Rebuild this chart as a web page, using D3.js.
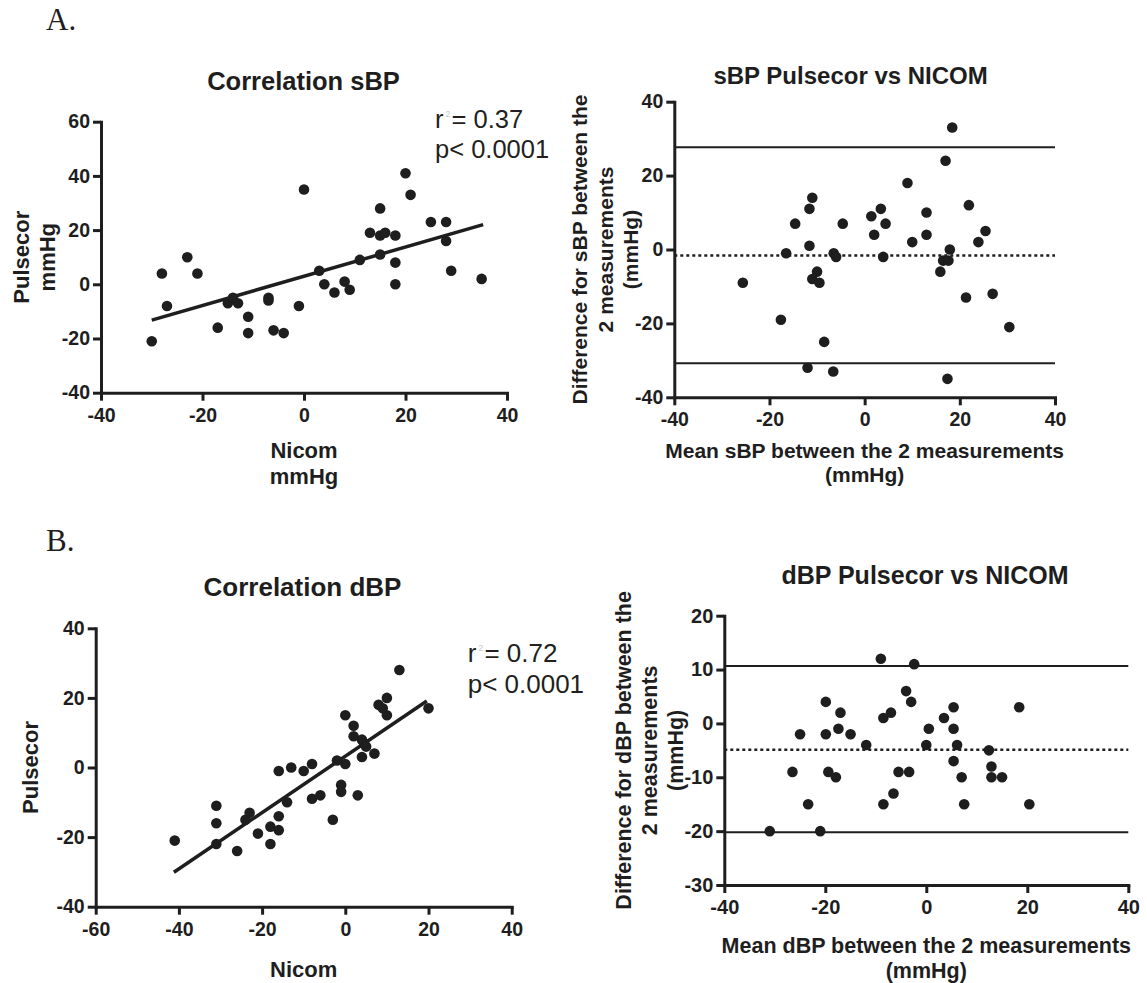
<!DOCTYPE html>
<html><head><meta charset="utf-8">
<script src="https://cdn.jsdelivr.net/npm/d3@7"></script>
<style>body{margin:0;background:#fff} svg{display:block}</style>
</head><body>
<svg id="chart" width="1147" height="983"></svg>
<script>
// ---------- DATA ----------
// A. systolic BP correlation (Nicom vs Pulsecor, mmHg)
const sbpCorrNicom    = [-30,-28,-27,-23,-21,-17,-15,-14,-13,-11,-11,-7,-7,-6,-4,-1,0,3,4,6,8,9,11,13,15,15,15,16,18,18,18,20,21,25,28,28,29,35];
const sbpCorrPulsecor = [-21,4,-8,10,4,-16,-7,-5,-7,-12,-18,-5,-6,-17,-18,-8,35,5,0,-3,1,-2,9,19,28,18,11,19,18,8,0,41,33,23,23,16,5,2];
const sbpFitNicom     = [-30, 35.3];
const sbpFitPulsecor  = [-13.2, 22];
const sbpCorrXTicks   = [-40,-20,0,20,40];
const sbpCorrYTicks   = [-40,-20,0,20,40,60];
const sbpStats        = ["0.37", "p< 0.0001"];

// A. systolic BP Bland-Altman
const sbpBAMean = [-25.6,-17.6,-16.5,-14.6,-12,-11.6,-11.6,-11,-11,-10,-9.5,-8.5,-6.6,-6.5,-6,-4.6,1.4,2,3.4,3.9,4.4,9,10,13,13,15.9,16.5,17,17.4,17.6,17.9,18.4,21.3,21.9,23.9,25.4,26.9,30.4];
const sbpBADiff = [-9,-19,-1,7,-32,11,1,14,-8,-6,-9,-25,-33,-1,-2,7,9,4,11,-2,7,18,2,10,4,-6,-3,24,-35,-3,0,33,-13,12,2,5,-12,-21];
const sbpBABias   = -1.6;
const sbpBALimits = [27.7, -30.8];
const sbpBAXTicks = [-40,-20,0,20,40];
const sbpBAYTicks = [-40,-20,0,20,40];

// B. diastolic BP correlation
const dbpCorrNicom    = [-41,-31,-31,-31,-26,-24,-23,-21,-18,-18,-16,-16,-16,-14,-13,-10,-8,-8,-6,-3,-2,-1,-1,0,0,2,2,3,4,4,4.5,5,7,8,9,10,10,13,20];
const dbpCorrPulsecor = [-21,-11,-16,-22,-24,-15,-13,-19,-17,-22,-1,-14,-18,-10,0,-1,1,-9,-8,-15,2,-5,-7,15,1,12,9,-8,3,8,7,6,4,18,17,20,15,28,17];
const dbpFitNicom     = [-41.2, 19.6];
const dbpFitPulsecor  = [-30.1, 19.1];
const dbpCorrXTicks   = [-60,-40,-20,0,20,40];
const dbpCorrYTicks   = [-40,-20,0,20,40];
const dbpStats        = ["0.72", "p< 0.0001"];

// B. diastolic BP Bland-Altman
const dbpBAMean = [-31,-26.5,-25,-23.4,-21,-19.9,-19.9,-19.4,-17.9,-17.4,-17,-15,-11.9,-9,-8.5,-8.5,-7,-6.5,-5.5,-4,-3.4,-3,-2.4,0,0.5,3.5,5.4,5.4,5.4,6.1,7,7.5,12.4,12.9,12.9,15,18.4,20.4];
const dbpBADiff = [-20,-9,-2,-15,-20,4,-2,-9,-10,-1,2,-2,-4,12,1,-15,2,-13,-9,6,-9,4,11,-4,-1,1,3,-1,-7,-4,-10,-15,-5,-8,-10,-10,3,-15];
const dbpBABias   = -4.9;
const dbpBALimits = [10.66, -20.2];
const dbpBAXTicks = [-40,-20,0,20,40];
const dbpBAYTicks = [-30,-20,-10,0,10,20];

// ---------- DRAWING ----------
const INK = "#1e1e1e";
const SANS = "'Liberation Sans', Arial, Helvetica, sans-serif";
const svg = d3.select("#chart");

function panel(cfg) {
  const g = svg.append("g");
  const x = d3.scaleLinear().domain(d3.extent(cfg.xTicks)).range([cfg.x0, cfg.x1]);
  const y = d3.scaleLinear().domain(d3.extent(cfg.yTicks)).range([cfg.y0, cfg.y1]);

  const fmt = d => String(d);
  const xa = g.append("g").attr("transform", `translate(0,${cfg.y0})`)
    .call(d3.axisBottom(x).tickValues(cfg.xTicks).tickSize(8).tickSizeOuter(0).tickPadding(7).tickFormat(fmt));
  const ya = g.append("g").attr("transform", `translate(${cfg.x0},0)`)
    .call(d3.axisLeft(y).tickValues(cfg.yTicks).tickSize(8).tickSizeOuter(0).tickPadding(3).tickFormat(fmt));
  [xa, ya].forEach(a => {
    a.attr("font-family", SANS).attr("font-size", cfg.tickFs || 19.5).attr("font-weight", "bold");
    a.select(".domain").attr("stroke", INK).attr("stroke-width", 3).attr("stroke-linecap", "square");
    a.selectAll(".tick line").attr("stroke", INK).attr("stroke-width", 3);
    a.selectAll(".tick text").attr("fill", INK);
  });

  // reference lines (Bland-Altman)
  if (cfg.limits) {
    g.selectAll("line.lim").data(cfg.limits).enter().append("line")
      .attr("x1", x(x.domain()[0])).attr("x2", x(x.domain()[1]))
      .attr("y1", d => y(d)).attr("y2", d => y(d))
      .attr("stroke", INK).attr("stroke-width", 2);
    g.append("line")
      .attr("x1", x(x.domain()[0])).attr("x2", x(x.domain()[1]))
      .attr("y1", y(cfg.bias)).attr("y2", y(cfg.bias))
      .attr("stroke", INK).attr("stroke-width", 2.5).attr("stroke-dasharray", "3,3");
  }
  // fit line
  if (cfg.fitX) {
    g.append("path").datum(d3.zip(cfg.fitX, cfg.fitY))
      .attr("d", d3.line().x(d => x(d[0])).y(d => y(d[1])))
      .attr("stroke", INK).attr("stroke-width", 3.5).attr("fill", "none");
  }
  // points
  g.selectAll("circle").data(d3.zip(cfg.px, cfg.py)).enter().append("circle")
    .attr("cx", d => x(d[0])).attr("cy", d => y(d[1])).attr("r", 5.3).attr("fill", INK);

  // title
  g.append("text").attr("x", cfg.title[1]).attr("y", cfg.title[2]).attr("text-anchor", "middle")
    .attr("font-family", SANS).attr("font-weight", "bold").attr("font-size", cfg.title[3])
    .attr("fill", INK).text(cfg.title[0]);
  // x label lines
  const xm = (cfg.x0 + cfg.x1) / 2;
  cfg.xLabel.forEach((t, i) => {
    g.append("text").attr("x", xm).attr("y", cfg.xLabelY[i]).attr("text-anchor", "middle")
      .attr("font-family", SANS).attr("font-weight", "bold").attr("font-size", cfg.labFs)
      .attr("fill", INK).text(t);
  });
  // y label lines (rotated)
  const ym = (cfg.y0 + cfg.y1) / 2;
  cfg.yLabel.forEach((t, i) => {
    g.append("text").attr("transform", `translate(${cfg.yLabelX[i]},${ym}) rotate(-90)`)
      .attr("text-anchor", "middle")
      .attr("font-family", SANS).attr("font-weight", "bold").attr("font-size", cfg.labFs)
      .attr("fill", INK).text(t);
  });
  // stats annotation
  if (cfg.stats) {
    const s = cfg.statsPos;
    const t1 = g.append("text").attr("x", s[0]).attr("y", s[1])
      .attr("font-family", SANS).attr("font-size", s[3]).attr("fill", "#231f20");
    t1.append("tspan").text("r");
    t1.append("tspan").attr("font-size", 9).attr("dy", -11).attr("dx", 2).attr("fill", "#c8c8c8").text("2");
    t1.append("tspan").attr("dy", 11).attr("dx", 1).text("= " + cfg.stats[0]);
    g.append("text").attr("x", s[0]).attr("y", s[2])
      .attr("font-family", SANS).attr("font-size", s[3]).attr("fill", "#231f20").text(cfg.stats[1]);
  }
}

// panel letters
svg.append("text").attr("x", 46).attr("y", 29.5).attr("font-family", "'Liberation Serif', 'Times New Roman', serif")
  .attr("font-size", 31).attr("fill", INK).text("A.");
svg.append("text").attr("x", 46).attr("y", 551).attr("font-family", "'Liberation Serif', 'Times New Roman', serif")
  .attr("font-size", 31).attr("fill", INK).text("B.");

panel({
  x0: 101, x1: 507, y0: 392.7, y1: 121.7,
  xTicks: sbpCorrXTicks, yTicks: sbpCorrYTicks,
  px: sbpCorrNicom, py: sbpCorrPulsecor,
  fitX: sbpFitNicom, fitY: sbpFitPulsecor,
  title: ["Correlation sBP", 303.5, 90, 25.5],
  xLabel: ["Nicom", "mmHg"], xLabelY: [458, 484],
  yLabel: ["Pulsecor", "mmHg"], yLabelX: [29, 55],
  labFs: 22,
  stats: sbpStats, statsPos: [435, 128.3, 158.3, 25.5]
});

panel({
  x0: 674.3, x1: 1055, y0: 397.3, y1: 101.7,
  xTicks: sbpBAXTicks, yTicks: sbpBAYTicks,
  px: sbpBAMean, py: sbpBADiff,
  limits: sbpBALimits, bias: sbpBABias,
  title: ["sBP Pulsecor vs NICOM", 850.6, 84, 24],
  xLabel: ["Mean sBP between the 2 measurements", "(mmHg)"], xLabelY: [458.3, 482],
  yLabel: ["Difference for sBP between the", "2 measurements", "(mmHg)"], yLabelX: [587, 613, 638],
  labFs: 21
});

panel({
  x0: 95.7, x1: 511.7, y0: 906.7, y1: 628.3,
  xTicks: dbpCorrXTicks, yTicks: dbpCorrYTicks,
  px: dbpCorrNicom, py: dbpCorrPulsecor,
  fitX: dbpFitNicom, fitY: dbpFitPulsecor,
  title: ["Correlation dBP", 302.5, 595.5, 26],
  xLabel: ["Nicom"], xLabelY: [977],
  yLabel: ["Pulsecor"], yLabelX: [37.5],
  labFs: 22,
  stats: dbpStats, statsPos: [467.7, 661.7, 693.3, 26]
});

panel({
  x0: 724.3, x1: 1128.3, y0: 885, y1: 615.7,
  xTicks: dbpBAXTicks, yTicks: dbpBAYTicks,
  px: dbpBAMean, py: dbpBADiff,
  limits: dbpBALimits, bias: dbpBABias,
  title: ["dBP Pulsecor vs NICOM", 925, 584.3, 25],
  xLabel: ["Mean dBP between the 2 measurements", "(mmHg)"], xLabelY: [953, 978],
  yLabel: ["Difference for dBP between the", "2 measurements", "(mmHg)"], yLabelX: [631, 657, 682.5],
  labFs: 21.5, tickFs: 20
});
</script>
</body></html>
